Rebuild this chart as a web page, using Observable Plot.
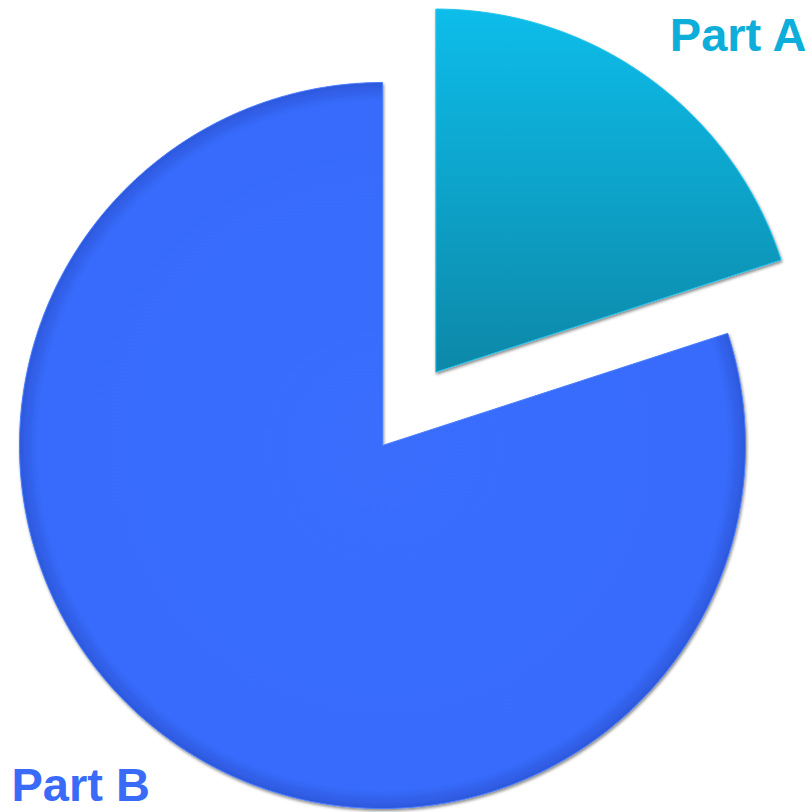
<!DOCTYPE html>
<html>
<head>
<meta charset="utf-8">
<script src="https://cdn.jsdelivr.net/npm/d3@7"></script>
<script src="https://cdn.jsdelivr.net/npm/@observablehq/plot@0.6"></script>
<style>
  html, body { margin: 0; padding: 0; background: #fff; }
  #chart { width: 812px; height: 812px; }
</style>
</head>
<body>
<div id="chart"></div>
<script>
// ---- data ----
const categories = ["Part A", "Part B"];
const values = [20, 80];
const exploded = [true, false];

// ---- layout (unit radius = 1, pie centre at 0,0) ----
const W = 812, H = 812;
const R = 363;          // pixels per unit radius
const cx = 382, cy = 445; // pie centre in pixels
const explode = 0.25;

const pie = d3.pie().sort(null).startAngle(0).endAngle(2 * Math.PI)(values);

// outline points for each slice, from the d3.pie angles
const outlines = pie.map((p, i) => {
  const mid = (p.startAngle + p.endAngle) / 2;
  const ox = exploded[i] ? explode * Math.sin(mid) : 0;
  const oy = exploded[i] ? explode * Math.cos(mid) : 0;
  const pts = [{name: categories[i], x: ox, y: oy}];
  const n = Math.max(8, Math.ceil((p.endAngle - p.startAngle) / 0.01));
  for (let k = 0; k <= n; k++) {
    const a = p.startAngle + (p.endAngle - p.startAngle) * k / n;
    pts.push({name: categories[i], x: ox + Math.sin(a), y: oy + Math.cos(a)});
  }
  pts.push({name: categories[i], x: ox, y: oy});
  return pts;
});

const labelA = [{name: categories[0], x: (806 - cx) / R, y: (cy - 35) / R}];
const labelB = [{name: categories[1], x: (11 - cx) / R, y: (cy - 785) / R}];

const defs = () => {
  const d = d3.create("svg:defs");
  const gB = d.append("radialGradient").attr("id", "gB")
    .attr("cx", 0.5).attr("cy", 0.5).attr("r", 0.5).attr("gradientUnits", "objectBoundingBox");
  gB.append("stop").attr("offset", "0%").attr("stop-color", "#3a6dfd");
  gB.append("stop").attr("offset", "95%").attr("stop-color", "#376bfb");
  gB.append("stop").attr("offset", "100%").attr("stop-color", "#2d58dc");
  const gA = d.append("linearGradient").attr("id", "gA")
    .attr("x1", 0).attr("y1", 0).attr("x2", 0).attr("y2", 1);
  gA.append("stop").attr("offset", "0%").attr("stop-color", "#0fbdea");
  gA.append("stop").attr("offset", "100%").attr("stop-color", "#0a88a8");
  const f = d.append("filter").attr("id", "shadow")
    .attr("x", "-5%").attr("y", "-5%").attr("width", "110%").attr("height", "110%");
  f.append("feDropShadow").attr("dx", 1).attr("dy", 2).attr("stdDeviation", 1.5)
    .attr("flood-color", "#000").attr("flood-opacity", 0.45);
  return d.node();
};

const textStyle = {fontSize: 47, fontWeight: "bold", fontFamily: "Liberation Sans, Arial, sans-serif"};

const plot = Plot.plot({
  width: W,
  height: H,
  margin: 0,
  x: {domain: [-cx / R, (W - cx) / R], axis: null},
  y: {domain: [-(H - cy) / R, cy / R], axis: null},
  marks: [
    defs,
    Plot.line(outlines[1], {x: "x", y: "y", fill: "url(#gB)", stroke: "#4a7dff", strokeWidth: 1, curve: "linear"}),
    Plot.line(outlines[0], {x: "x", y: "y", fill: "url(#gA)", stroke: "#20c4ee", strokeWidth: 1, curve: "linear"}),
    Plot.text(labelA, {x: "x", y: "y", text: "name", textAnchor: "end", fill: "#0daed9", ...textStyle}),
    Plot.text(labelB, {x: "x", y: "y", text: "name", textAnchor: "start", fill: "#3a6bf8", ...textStyle})
  ]
});
plot.querySelectorAll("g[aria-label='line'] path").forEach(p => p.setAttribute("filter", "url(#shadow)"));
document.getElementById("chart").appendChild(plot);
</script>
</body>
</html>
